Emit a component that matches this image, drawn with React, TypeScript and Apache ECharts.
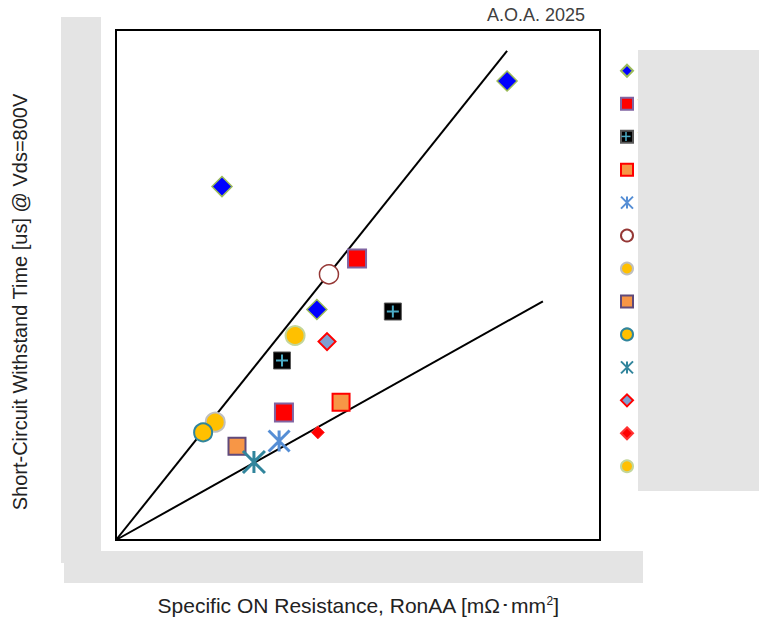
import { useEffect, useRef } from "react";
import * as echarts from "echarts";

// Vendor names, in legend order
const vendors = [
  "Infineon",
  "Wolfspeed",
  "Toshiba",
  "STMicro",
  "Qorvo",
  "Rohm",
  "Mitsubishi",
  "GeneSiC",
  "Hitachi",
  "Coherent",
  "Fuji",
  "Bosch",
  "Navitas",
];

// Points per vendor: [RonAA, short-circuit withstand time]
const infineonPts = [
  [2.19, 6.93],
  [4.15, 4.52],
  [8.08, 9.0],
];
const wolfspeedPts = [
  [4.98, 5.52],
  [3.47, 2.5],
];
const toshibaPts = [
  [5.72, 4.48],
  [3.43, 3.52],
];
const stPts = [[4.65, 2.7]];
const qorvoPts = [[3.37, 1.94]];
const rohmPts = [[4.4, 5.21]];
const mitsubishiPts = [[2.05, 2.31]];
const genesicPts = [[2.5, 1.84]];
const hitachiPts = [[1.8, 2.11]];
const coherentPts = [[2.85, 1.53]];
const fujiPts = [[4.36, 3.89]];
const boschPts = [[4.17, 2.11]];
const navitasPts = [[3.7, 4.01]];

// Trend lines through the origin
const upperTrend = [
  [0, 0],
  [8.08, 9.59],
];
const lowerTrend = [
  [0, 0],
  [8.82, 4.68],
];

const X_MAX = 10;
const Y_MAX = 10;

const ASTERISK = "path://M0 0L100 100M100 0L0 100M50 0L50 100";
const PLUS = "path://M50 0L50 100M0 50L100 50";
const CLEAR = "rgba(0,0,0,0)";

// legend geometry: each item is about 13.9px tall (text box), pitch 32.86px
const LEG_LEFT = 620;
const LEG_ICON = 12;
const LEG_ITEM_H = 13.9;
const LEG_PITCH = 32.86;
const LEG_GAP = LEG_PITCH - LEG_ITEM_H;
const LEG_TOP = 70.7 - LEG_ITEM_H / 2;

const FONT = "'Liberation Sans', Arial, sans-serif";

function dot(
  name: string,
  data: number[][],
  symbol: string,
  size: number,
  color: string,
  borderColor: string,
  borderWidth: number
) {
  return {
    type: "scatter",
    name,
    data,
    symbol,
    symbolSize: size,
    itemStyle: { color, borderColor, borderWidth, opacity: 1 },
    emphasis: { disabled: true },
  };
}

export default function App() {
  const ref = useRef<HTMLDivElement>(null);

  useEffect(() => {
    if (!ref.current) return;
    const chart = echarts.init(ref.current, null, { renderer: "svg" });

    // legend icon centre for the Toshiba entry (third item)
    const tIdx = 2;
    const tx = LEG_LEFT + LEG_ICON / 2;
    const ty = LEG_TOP + tIdx * LEG_PITCH + LEG_ITEM_H / 2;

    chart.setOption({
      animation: false,
      backgroundColor: "#ffffff",
      title: {
        text: "A.O.A. 2025",
        left: 487,
        top: 6,
        padding: 0,
        textStyle: {
          fontFamily: FONT,
          fontSize: 18,
          fontWeight: "normal",
          color: "#404040",
        },
      },
      grid: {
        left: 116,
        top: 30,
        width: 484,
        height: 511,
        show: true,
        borderColor: "#000",
        borderWidth: 2,
        backgroundColor: "transparent",
      },
      xAxis: {
        type: "value",
        min: 0,
        max: X_MAX,
        axisLine: { show: false },
        axisTick: { show: false },
        axisLabel: { show: false },
        splitLine: { show: false },
        name: "Specific ON Resistance, RonAA [mΩ･mm{sup|2}]",
        nameLocation: "middle",
        nameGap: 55,
        nameTextStyle: {
          fontFamily: FONT,
          fontSize: 21,
          color: "#222",
          rich: {
            sup: {
              fontFamily: FONT,
              fontSize: 12,
              lineHeight: 12,
              verticalAlign: "top",
              color: "#222",
            },
          },
        },
      },
      yAxis: {
        type: "value",
        min: 0,
        max: Y_MAX,
        axisLine: { show: false },
        axisTick: { show: false },
        axisLabel: { show: false },
        splitLine: { show: false },
        name: "Short-Circuit Withstand Time [us] @ Vds=800V",
        nameLocation: "middle",
        nameGap: 86,
        nameTextStyle: {
          fontFamily: FONT,
          fontSize: 20,
          color: "#222",
          padding: [0, 34, 0, 0],
        },
      },
      legend: {
        data: vendors,
        orient: "vertical",
        left: LEG_LEFT,
        top: LEG_TOP,
        padding: 0,
        itemWidth: LEG_ICON,
        itemHeight: LEG_ICON,
        itemGap: LEG_GAP,
        selectedMode: false,
        textStyle: {
          fontFamily: FONT,
          fontSize: 12,
          lineHeight: 12,
          color: "#000",
        },
      },
      series: [
        {
          type: "line",
          name: "upper trend",
          data: upperTrend,
          symbol: "none",
          lineStyle: { color: "#000", width: 2 },
          silent: true,
          z: 1,
        },
        {
          type: "line",
          name: "lower trend",
          data: lowerTrend,
          symbol: "none",
          lineStyle: { color: "#000", width: 2 },
          silent: true,
          z: 1,
        },
        dot(vendors[0], infineonPts, "diamond", 20, "#0000ff", "#9bbb59", 1.5),
        dot(vendors[1], wolfspeedPts, "rect", 18, "#ff0000", "#8064a2", 2),
        dot(vendors[2], toshibaPts, "rect", 17, "#000000", "#595959", 1),
        dot(vendors[3], stPts, "rect", 17, "#f79646", "#ff0000", 2),
        dot(vendors[4], qorvoPts, ASTERISK, 21, CLEAR, "#558ed5", 3),
        dot(vendors[5], rohmPts, "circle", 19, "#ffffff", "#953735", 1.5),
        dot(vendors[6], mitsubishiPts, "circle", 19, "#ffc000", "#bfbfbf", 2),
        dot(vendors[7], genesicPts, "rect", 17, "#f79646", "#604a7b", 2),
        dot(vendors[8], hitachiPts, "circle", 18, "#ffc000", "#31859c", 2),
        dot(vendors[9], coherentPts, ASTERISK, 22, CLEAR, "#31859c", 3),
        dot(vendors[10], fujiPts, "diamond", 17, "#7f9fd0", "#ff0000", 2),
        dot(vendors[11], boschPts, "diamond", 13, "#ff0000", "#ff3333", 1),
        dot(vendors[12], navitasPts, "circle", 19, "#ffc000", "#c3d69b", 2),
        // cyan cross drawn over the Toshiba squares
        dot("Toshiba cross", toshibaPts, PLUS, 12, CLEAR, "#4bacc6", 2),
      ],
      graphic: {
        elements: [
          {
            type: "line",
            z: 100,
            shape: { x1: tx - 4.5, y1: ty, x2: tx + 4.5, y2: ty },
            style: { stroke: "#4bacc6", lineWidth: 1.5 },
          },
          {
            type: "line",
            z: 100,
            shape: { x1: tx, y1: ty - 4.5, x2: tx, y2: ty + 4.5 },
            style: { stroke: "#4bacc6", lineWidth: 1.5 },
          },
          {
            type: "rect",
            z: 100,
            shape: { x: 61, y: 17, width: 40, height: 546 },
            style: { fill: "#e4e4e4" },
          },
          {
            type: "rect",
            z: 100,
            shape: { x: 64, y: 551, width: 579, height: 32 },
            style: { fill: "#e4e4e4" },
          },
          {
            type: "rect",
            z: 100,
            shape: { x: 638, y: 50, width: 121, height: 441 },
            style: { fill: "#e4e4e4" },
          },
        ],
      },
    });

    return () => chart.dispose();
  }, []);

  return (
    <div
      ref={ref}
      style={{ position: "fixed", left: 0, top: 0, width: 759, height: 621 }}
    />
  );
}
